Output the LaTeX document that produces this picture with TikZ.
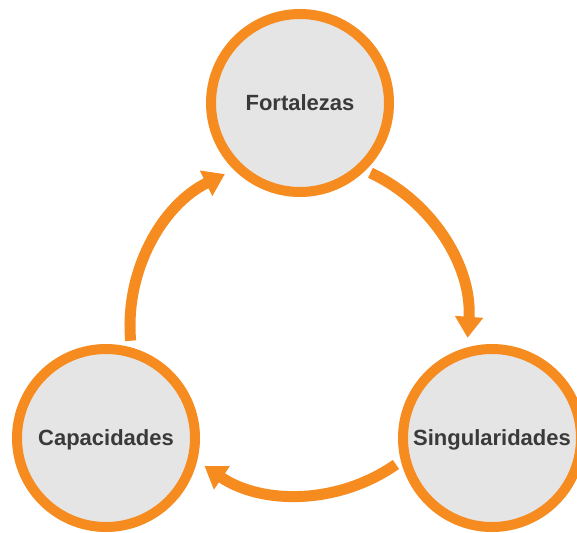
\documentclass[tikz,border=0pt]{standalone}
\usepackage{fontspec}
\setmainfont{Liberation Sans}
\usetikzlibrary{arrows.meta}
\definecolor{ring}{HTML}{F68B1F}
\definecolor{disc}{HTML}{E6E5E6}
\definecolor{ink}{HTML}{3A3A3A}
\tikzset{
  x=1pt, y=-1pt,
  bubble/.style={circle, draw=ring, line width=10pt, fill=disc, minimum size=178pt, inner sep=0pt,
    font=\bfseries\fontsize{22}{24}\selectfont, text=ink, text height=15.75pt, text depth=0pt},
  flow/.style={draw=ring, line width=11pt, -{Triangle[length=21pt,width=27pt]}}
}
\begin{document}
\begin{tikzpicture}
\useasboundingbox (0,0) rectangle (577,532);
\coordinate (O) at (299,326);
\node[bubble] (fort) at (300,103) {Fortalezas};
\node[bubble] (cap) at (106,438) {Capacidades};
\node[bubble] (sing) at (492,438) {Singularidades};
\draw[flow] ([shift={(185:169pt)}]O) arc[start angle=185, end angle=116, radius=169pt];
\draw[flow] ([shift={(65:169pt)}]O) arc[start angle=65, end angle=-4, radius=169pt];
\draw[flow] ([shift={(-55:169pt)}]O) arc[start angle=-55, end angle=-124, radius=169pt];
\end{tikzpicture}
\end{document}
